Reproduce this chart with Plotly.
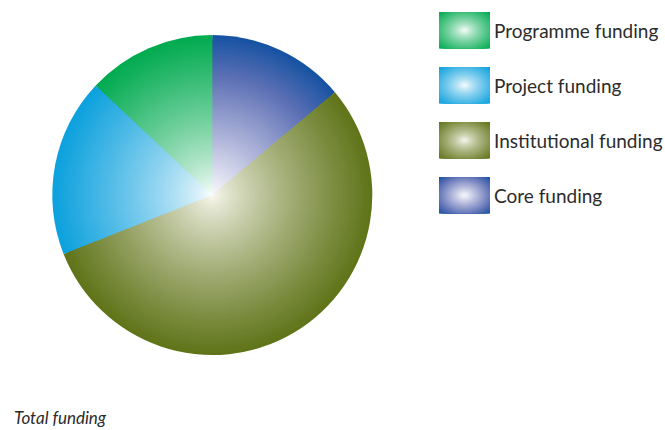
import plotly.graph_objects as go

# ---- data ----
labels = ["Core funding", "Institutional funding", "Project funding", "Programme funding"]
values = [13.9, 55.1, 18.0, 13.0]
colors = ["#1652A2", "#5F7318", "#0BA0DD", "#00AA4F"]
legend_labels = ["Programme funding", "Project funding", "Institutional funding", "Core funding"]
legend_colors = ["#00AA4F", "#0BA0DD", "#5F7318", "#1652A2"]
caption = "Total funding"

W, H = 665, 430
CX, CY, R = 212.3, 195.0, 160.0
N = 60
GAMMA = 0.78

# gradient stops per colour (centre -> edge)
STOPS = {
    "#1652A2": [(0.0, "#F8F8FC"), (0.45, "#9CA4D1"), (0.75, "#5A6FB4"), (1.0, "#1552A2")],
    "#5F7318": [(0.0, "#FBFAF2"), (1.0, "#5F7318")],
    "#0BA0DD": [(0.0, "#FFFFFF"), (1.0, "#0BA0DD")],
    "#00AA4F": [(0.0, "#FFFFFF"), (1.0, "#00AA4F")],
}


def hex2rgb(h):
    h = h.lstrip("#")
    return [int(h[i:i + 2], 16) for i in (0, 2, 4)]


def mix(c, t):
    t = max(0.0, min(1.0, t))
    stops = STOPS[c]
    if len(stops) == 2:
        t = t ** GAMMA
    for (t0, c0), (t1, c1) in zip(stops[:-1], stops[1:]):
        if t <= t1:
            u = (t - t0) / (t1 - t0)
            a, b = hex2rgb(c0), hex2rgb(c1)
            return "rgb(%d,%d,%d)" % tuple(round(a[i] + (b[i] - a[i]) * u) for i in range(3))
    return c


fig = go.Figure()

# concentric pies build a radial gradient from the centre
for i in range(N):
    r = R * (N - i) / N
    t = (r - 0.5 * R / N) / R
    fig.add_trace(go.Pie(
        values=values, labels=labels, sort=False, direction="clockwise", rotation=0,
        marker=dict(colors=[mix(c, t) for c in colors], line=dict(width=0)),
        textinfo="none", hoverinfo="skip", showlegend=False,
        domain=dict(x=[(CX - r) / W, (CX + r) / W], y=[1 - (CY + r) / H, 1 - (CY - r) / H]),
    ))

# legend swatches with radial gradient, drawn in small clipped subplots
shapes = []
annotations = []
LX0, LX1 = 439, 490
tops = [12, 67, 122, 177]
SH = 36.5
M = 24
for k, (lab, col) in enumerate(zip(legend_labels, legend_colors)):
    ax = k + 2
    y0 = tops[k]
    fig.update_layout({
        "xaxis%d" % ax: dict(domain=[LX0 / W, LX1 / W], range=[0, 1], visible=False, anchor="y%d" % ax, fixedrange=True),
        "yaxis%d" % ax: dict(domain=[1 - (y0 + SH) / H, 1 - y0 / H], range=[0, 1], visible=False, anchor="x%d" % ax, fixedrange=True),
    })
    xr, yr = "x%d" % ax, "y%d" % ax
    shapes.append(dict(type="rect", xref=xr, yref=yr, x0=0, x1=1, y0=0, y1=1,
                       fillcolor=col, line=dict(width=0), layer="above"))
    amax = 0.707
    for j in range(M):
        a = amax * (M - j) / M
        t = (a - 0.5 * amax / M) / amax
        shapes.append(dict(type="circle", xref=xr, yref=yr, x0=0.5 - a, x1=0.5 + a, y0=0.5 - a, y1=0.5 + a,
                           fillcolor=mix(col, t), line=dict(width=0), layer="above"))
    annotations.append(dict(text=lab, x=492 / W, y=1 - (y0 + SH / 2) / H, xref="paper", yref="paper",
                            xanchor="left", yanchor="middle", showarrow=False,
                            font=dict(family="Lato", size=19, color="#2b2b2b")))

annotations.append(dict(text="<i>" + caption + "</i>", x=12 / W, y=1 - 417 / H, xref="paper", yref="paper",
                        xanchor="left", yanchor="middle", showarrow=False,
                        font=dict(family="Lato", size=17, color="#2b2b2b")))

fig.update_layout(
    width=W, height=H, margin=dict(l=0, r=0, t=0, b=0),
    paper_bgcolor="white", plot_bgcolor="white",
    shapes=shapes, annotations=annotations, showlegend=False,
)

fig.write_html("out.html")
